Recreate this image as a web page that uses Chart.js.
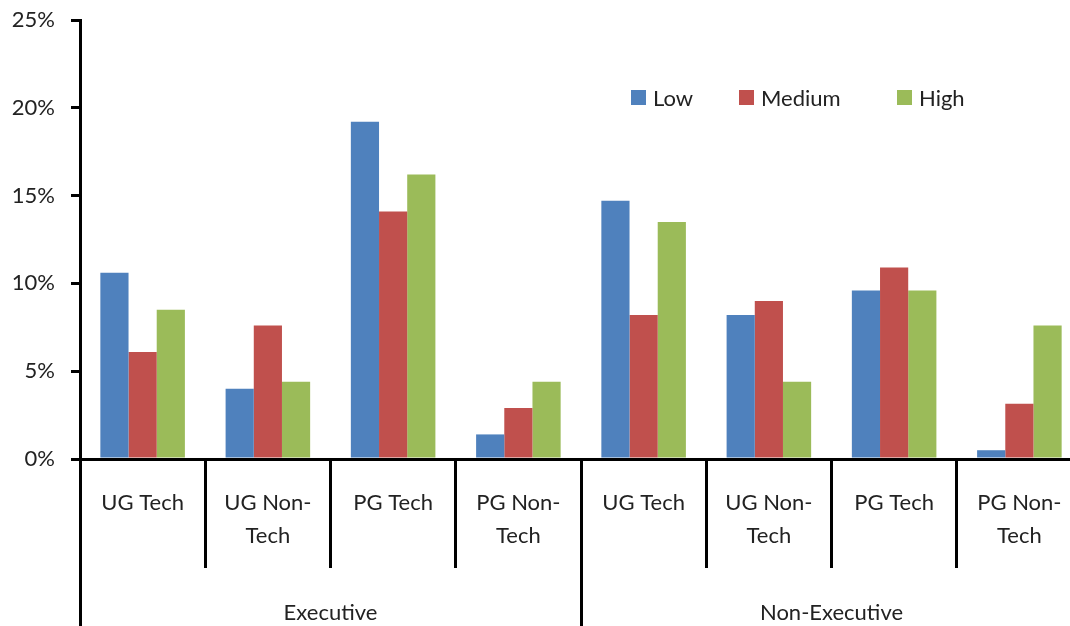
<!DOCTYPE html>
<html>
<head>
<meta charset="utf-8">
<title>Low / Medium / High by qualification</title>
<script src="https://cdn.jsdelivr.net/npm/chart.js@4/dist/chart.umd.min.js"></script>
<style>
    html, body { margin: 0; padding: 0; background: #fff; overflow: hidden; }
    #wrap { position: relative; width: 1070px; height: 626px; overflow: hidden; }
    #wrap canvas { position: absolute; left: 0; top: 0; }
    .item { position: absolute; top: 82px; height: 30px; display: flex; align-items: center;
            font: 22px Lato, sans-serif; color: #222; white-space: nowrap; }
    .item .box { width: 15px; height: 15px; margin-right: 7px; }
</style>
</head>
<body>
<div id="wrap">
    <canvas id="barChart" width="1082" height="626"></canvas>
</div>
<script>
// Data (percent)
const categories = [['UG Tech'], ['UG Non-', 'Tech'], ['PG Tech'], ['PG Non-', 'Tech'],
                    ['UG Tech'], ['UG Non-', 'Tech'], ['PG Tech'], ['PG Non-', 'Tech']];
const groups = ['Executive', 'Non-Executive'];
const seriesNames = ['Low', 'Medium', 'High'];
const low = [10.6, 4.0, 19.2, 1.4, 14.7, 8.2, 9.6, 0.5];
const medium = [6.1, 7.6, 14.1, 2.9, 8.2, 9.0, 10.9, 3.15];
const high = [8.5, 4.4, 16.2, 4.4, 13.5, 4.4, 9.6, 7.6];
const yMax = 25;
const yStep = 5;

const colors = ['#4F81BD', '#C0504D', '#9BBB59'];
const legendLeft = [631, 739, 897];
const textColor = '#222';
const font = { family: 'Lato', size: 22, lineHeight: 1.5 };

const ctx = document.getElementById('barChart').getContext('2d');
const chart = new Chart(ctx, {
    type: 'bar',
    data: {
        labels: categories,
        datasets: [low, medium, high].map((vals, i) => ({
            label: seriesNames[i],
            data: vals,
            backgroundColor: colors[i],
            borderWidth: 0,
            categoryPercentage: 0.675,
            barPercentage: 1.0
        }))
    },
    options: {
        responsive: false,
        animation: false,
        layout: { padding: { top: 20, left: 0, right: 0, bottom: 0 } },
        plugins: {
            legend: { display: false },
            tooltip: { enabled: false }
        },
        scales: {
            x: {
                weight: 0,
                grid: { offset: true, drawOnChartArea: false, color: '#000', lineWidth: 3, tickLength: 109 },
                border: { color: '#000', width: 3 },
                ticks: { font: font, color: textColor, padding: -81.5, maxRotation: 0, autoSkip: false },
                afterFit: s => { s.height = 109; s.paddingLeft = 0; s.paddingRight = 0; }
            },
            x2: {
                type: 'category',
                labels: groups,
                position: 'bottom',
                weight: 1,
                offset: true,
                grid: { offset: true, drawOnChartArea: false, color: '#000', lineWidth: 3, tickLength: 62 },
                border: { display: false },
                ticks: { font: font, color: textColor, padding: -33.5, maxRotation: 0, autoSkip: false },
                afterFit: s => { s.height = 58; s.paddingLeft = 0; s.paddingRight = 0; }
            },
            y: {
                min: 0,
                max: yMax,
                ticks: { stepSize: yStep, callback: v => v + '%', font: font, color: textColor, padding: 16 },
                grid: { drawOnChartArea: false, color: '#000', lineWidth: 3, tickLength: 9 },
                border: { color: '#000', width: 3 },
                afterFit: s => { s.width = 80; s.paddingTop = 0; s.paddingBottom = 0; }
            }
        }
    }
});

// Legend sits inside the plot area, top right
const wrap = document.getElementById('wrap');
chart.data.datasets.forEach((ds, i) => {
    const item = document.createElement('div');
    item.className = 'item';
    item.style.left = legendLeft[i] + 'px';
    const box = document.createElement('span');
    box.className = 'box';
    box.style.background = ds.backgroundColor;
    item.appendChild(box);
    item.appendChild(document.createTextNode(ds.label));
    wrap.appendChild(item);
});
</script>
</body>
</html>
